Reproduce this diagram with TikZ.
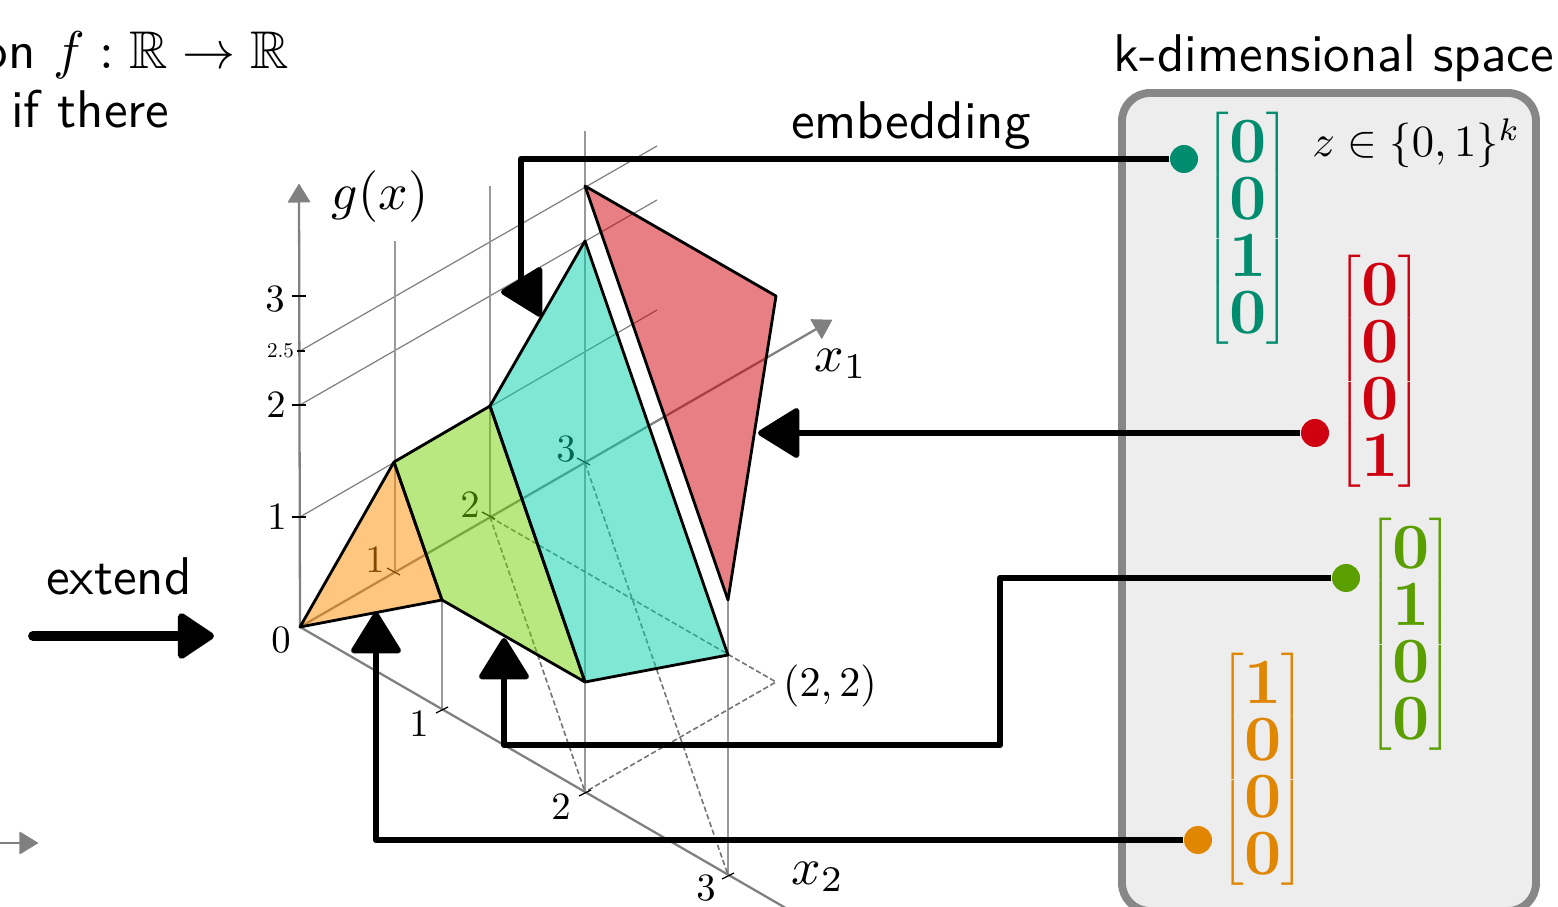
\documentclass[tikz,border=0pt]{standalone}
\usepackage{amsmath,amssymb}
\usepackage{tikz}
\usetikzlibrary{arrows.meta}
\definecolor{zteal}{HTML}{008C6E}
\definecolor{zred}{HTML}{CF000F}
\definecolor{zgreen}{HTML}{5A9E00}
\definecolor{zorange}{HTML}{E08600}
\definecolor{porange}{HTML}{FF8E00}
\definecolor{pgreen}{HTML}{71D100}
\definecolor{pteal}{HTML}{00D1AB}
\definecolor{pred}{HTML}{D1000B}
\newcommand{\zd}[1]{\raisebox{-2.4pt}{\scalebox{1.84}{$\mathbf{#1}$}}}
\newcommand{\zvec}[4]{$\delimiterfactor=1000\delimitershortfall=0pt\renewcommand{\arraystretch}{1.35}\begin{bmatrix}\zd{#1}\\\zd{#2}\\\zd{#3}\\\zd{#4}\end{bmatrix}$}

\begin{document}
\begin{tikzpicture}[
  x=1cm, y=-1cm,
  txt/.style={font=\sffamily, scale=1.51, inner sep=0pt},
  tick/.style={scale=1.1, inner sep=0pt},
  axlbl/.style={scale=1.47, inner sep=0pt},
  axline/.style={draw=black!50, line width=0.65pt, -{Triangle[length=1.9mm,width=2.3mm,line width=0.3pt,round]}},
  guide/.style={draw=black!50, line width=0.35pt},
  vguide/.style={draw=black!40, line width=0.4pt},
  dguide/.style={draw=black!55, line width=0.45pt, dash pattern=on 1.5pt off 0.8pt},
  tickmark/.style={draw=black, line width=0.35pt},
  piece/.style={draw=black, line width=0.8pt, line join=round, fill opacity=0.5},
  emb/.style={draw=black, line width=1.85pt, line join=round, -{Triangle[length=4.4mm,width=5.3mm,line width=1.6pt,round]}},
  dot/.style={circle, minimum size=2.8mm, inner sep=0pt},
  zmat/.style={inner sep=0pt},
]
\path[use as bounding box, clip] (0,0) rectangle (15.58,9.07);

\coordinate (orig) at (3.00,6.27);
\coordinate (zend) at (2.99,1.84);
\coordinate (aend) at (8.32,3.20);
\coordinate (bend) at (8.22,9.29);
\coordinate (a1) at (3.95,5.73);
\coordinate (a2) at (4.90,5.17);
\coordinate (a3) at (5.85,4.63);
\coordinate (b1) at (4.42,7.09);
\coordinate (b2) at (5.85,7.92);
\coordinate (b3) at (7.28,8.75);
\coordinate (c22) at (7.76,6.82);

\coordinate (p0) at (3.94,4.62);
\coordinate (p1) at (4.90,4.06);
\coordinate (p2) at (5.85,2.41);
\coordinate (p3) at (4.42,6.00);
\coordinate (p4) at (5.85,6.82);
\coordinate (p5) at (7.28,6.55);
\coordinate (r0) at (5.85,1.86);
\coordinate (r1) at (7.76,2.96);
\coordinate (r2) at (7.28,6.00);

\draw[guide] (3.00,5.17) -- (6.57,3.10);
\draw[guide] (3.00,4.05) -- (6.57,2.00);
\draw[guide] (3.00,3.51) -- (6.57,1.46);
\draw[vguide] (3.95,2.41) -- (a1);
\draw[vguide] (4.90,1.86) -- (a2);
\draw[vguide] (5.85,1.31) -- (b2);
\draw[vguide] (p3) -- (b1);
\draw[vguide] (r2) -- (b3);

\draw[dguide] (a2) -- (c22) -- (b2);
\draw[dguide] (a2) -- (b2);
\draw[dguide] (a3) -- (b3);

\draw[axline] (orig) -- (zend);
\draw[axline] (orig) -- (aend);
\draw[axline] (orig) -- (bend);
\draw[axline] (-0.10,8.43) -- (0.38,8.43);

\draw[tickmark] (2.92,5.17) -- (3.06,5.17);
\draw[tickmark] (2.92,4.05) -- (3.06,4.05);
\draw[tickmark] (2.97,3.51) -- (3.05,3.51);
\draw[tickmark] (2.92,2.96) -- (3.06,2.96);
\draw[tickmark] (3.87,5.68) -- (4.00,5.75);
\draw[tickmark] (4.82,5.12) -- (4.95,5.19);
\draw[tickmark] (5.77,4.58) -- (5.90,4.65);
\draw[tickmark] (4.36,7.13) -- (4.48,7.07);
\draw[tickmark] (5.79,7.96) -- (5.91,7.90);
\draw[tickmark] (7.22,8.79) -- (7.34,8.73);

\node[tick] (t0) at (2.81,6.40) {$0$};
\node[tick] (t1) at (2.77,5.17) {$1$};
\node[tick] (t2) at (2.76,4.05) {$2$};
\node[scale=0.6, inner sep=0pt] (t25) at (2.805,3.51) {$2.5$};
\node[tick] (t3) at (2.75,2.99) {$3$};
\node[tick] (l1) at (3.75,5.60) {$1$};
\node[tick] (l2) at (4.70,5.05) {$2$};
\node[tick] (l3) at (5.66,4.49) {$3$};
\node[tick] (m1) at (4.19,7.24) {$1$};
\node[tick] (m2) at (5.61,8.07) {$2$};
\node[tick] (m3) at (7.06,8.88) {$3$};
\node[scale=1.2, inner sep=0pt] (pt22) at (8.30,6.86) {$(2,2)$};
\node[axlbl] (gx) at (3.80,1.97) {$g(x)$};
\node[axlbl] (xa) at (8.41,3.64) {$x_1$};
\node[axlbl] (xb) at (8.18,8.77) {$x_2$};
\node[axlbl, anchor=east] (xc) at (0.03,8.80) {$x$};

\draw[piece, fill=porange] (orig) -- (p0) -- (p3) -- cycle;
\draw[piece, fill=pgreen] (p0) -- (p1) -- (p4) -- (p3) -- cycle;
\draw[piece, fill=pteal] (p1) -- (p2) -- (p5) -- (p4) -- cycle;
\draw[piece, fill=pred] (r0) -- (r1) -- (r2) -- cycle;

\node[txt, anchor=base east] (fline) at (2.895,0.69) {on $f:\mathbb{R}\rightarrow\mathbb{R}$};
\node[txt, anchor=base west] (ifline) at (0.10,1.28) {if there};
\node[txt, anchor=base] (extend) at (1.19,5.95) {extend};
\node[txt, anchor=base] (embedding) at (9.11,1.39) {embedding};
\node[txt, anchor=base] (space) at (13.34,0.72) {k-dimensional space};

\node[draw=black!47, fill=black!7, line width=2.25pt, rounded corners=0.28cm, outer sep=0pt,
  minimum width=4.14cm, minimum height=8.18cm] (zbox) at (13.29,5.02) {};
\node[scale=1.27, inner sep=0pt] (zset) at (14.165,1.43) {$z\in\{0,1\}^k$};

\node[zmat, text=zteal] (vteal) at (12.48,2.285) {\zvec{0}{0}{1}{0}};
\node[zmat, text=zred] (vred) at (13.80,3.715) {\zvec{0}{0}{0}{1}};
\node[zmat, text=zgreen] (vgreen) at (14.11,6.345) {\zvec{0}{1}{0}{0}};
\node[zmat, text=zorange] (vorange) at (12.63,7.695) {\zvec{1}{0}{0}{0}};

\node[dot, fill=zteal] (dteal) at (11.84,1.59) {};
\node[dot, fill=zred] (dred) at (13.15,4.33) {};
\node[dot, fill=zgreen] (dgreen) at (13.46,5.78) {};
\node[dot, fill=zorange] (dorange) at (11.98,8.40) {};

\draw[emb] (dteal.west) -- (5.21,1.59) -- (5.21,2.92) -- (5.01,2.92);
\draw[emb] (dred.west) -- (7.58,4.33);
\draw[emb] (dgreen.west) -- (10.00,5.78) -- (10.00,7.45) -- (5.04,7.45) -- (5.04,6.38);
\draw[emb] (dorange.west) -- (3.76,8.40) -- (3.76,6.12);

\coordinate (estart) at (0.33,6.36);
\coordinate (eend) at (2.14,6.36);
\draw[line width=2.8pt, line cap=round, -{Triangle[length=3.9mm,width=5mm,line width=2pt,round]}] (estart) -- (eend);
\end{tikzpicture}
\end{document}
